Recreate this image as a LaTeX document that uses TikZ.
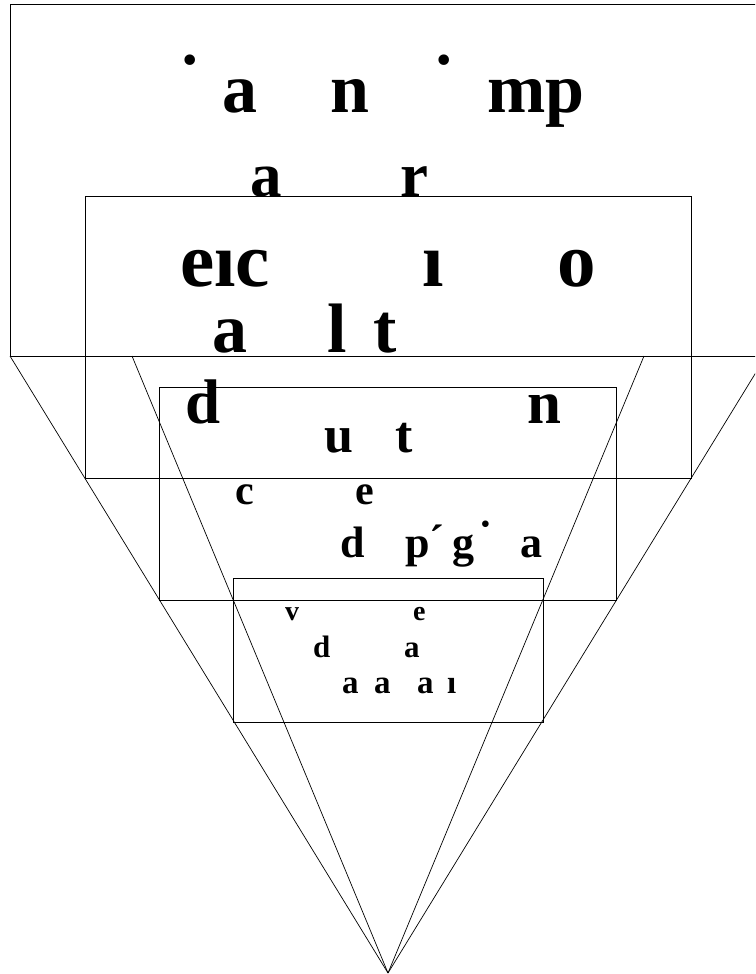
\documentclass[tikz,border=0pt]{standalone}
\usepackage{fontspec}
\setmainfont{Liberation Serif}

\begin{document}
\begin{tikzpicture}[
  x=1pt, y=-1pt,
  frame/.style={draw=black, line width=0.8pt},
  ray/.style={draw=black, line width=0.7pt},
  glyph/.style={inner sep=0pt, anchor=base west, font=\bfseries\fontsize{#1}{#1}\selectfont}
]
\useasboundingbox (0,0) rectangle (755,974);
\clip (0,0) rectangle (755,974);

\coordinate (apex) at (388,973);
\coordinate (outl) at (10,356);
\coordinate (inl) at (132,356);
\coordinate (inr) at (644,356);
\coordinate (outr) at (766,356);

\draw[frame] (10,4) rectangle (766,356);
\draw[frame] (85,196) rectangle (691,478);
\draw[frame] (159,387) rectangle (616,600);
\draw[frame] (233,578) rectangle (543,722);

\draw[ray] (outl) -- (apex);
\draw[ray] (inl) -- (apex);
\draw[ray] (inr) -- (apex);
\draw[ray] (outr) -- (apex);

\node[glyph=70] (d1) at (178,103) {˙};
\node[glyph=70] (a1) at (222,112) {a};
\node[glyph=70] (n1) at (330,112) {n};
\node[glyph=70] (d2) at (432,103) {˙};
\node[glyph=70] (mp1) at (487,112) {mp};

\node[glyph=63] (a2) at (250,196) {a};
\node[glyph=63] (r2) at (400,196) {r};

\node[glyph=77] (eic3) at (180,286) {eıc};
\node[glyph=77] (i3) at (422,286) {ı};
\node[glyph=77] (o3) at (557,286) {o};

\node[glyph=70] (a4) at (212,352) {a};
\node[glyph=70] (l4) at (327,352) {l};
\node[glyph=70] (t4) at (373,352) {t};

\node[glyph=63] (d5) at (185,423) {d};
\node[glyph=61] (n5) at (527,423) {n};

\node[glyph=52] (u6) at (324,452) {u};
\node[glyph=52] (t6) at (395,452) {t};

\node[glyph=42] (c7) at (235,504) {c};
\node[glyph=42] (e7) at (355,504) {e};

\node[glyph=44] (d8) at (340,557) {d};
\node[glyph=44] (p8) at (405,557) {p};
\node[glyph=44] (ac8) at (429,555) {´};
\node[glyph=44] (g8) at (452,557) {g};
\node[glyph=44] (dt8) at (478,551) {˙};
\node[glyph=44] (a8) at (520,557) {a};

\node[glyph=28] (v9) at (285,620) {v};
\node[glyph=28] (e9) at (413,620) {e};

\node[glyph=31] (d10) at (313,657) {d};
\node[glyph=31] (a10) at (404,657) {a};

\node[glyph=33] (a11) at (342,693) {a};
\node[glyph=33] (b11) at (374,693) {a};
\node[glyph=33] (c11) at (417,693) {a};
\node[glyph=33] (i11) at (447,693) {ı};

\end{tikzpicture}
\end{document}
